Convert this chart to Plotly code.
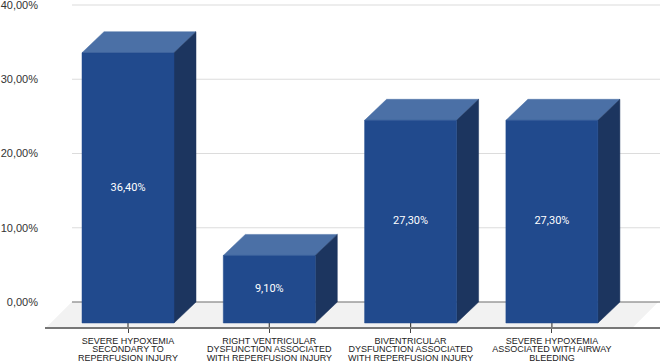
import plotly.graph_objects as go

categories = [
    ["SEVERE HYPOXEMIA", "SECONDARY TO", "REPERFUSION INJURY"],
    ["RIGHT VENTRICULAR", "DYSFUNCTION ASSOCIATED", "WITH REPERFUSION INJURY"],
    ["BIVENTRICULAR", "DYSFUNCTION ASSOCIATED", "WITH REPERFUSION INJURY"],
    ["SEVERE HYPOXEMIA", "ASSOCIATED WITH AIRWAY", "BLEEDING"],
]
values = [36.4, 9.1, 27.3, 27.3]
value_labels = ["36,40%", "9,10%", "27,30%", "27,30%"]
y_ticks = [0, 10, 20, 30, 40]
y_tick_labels = ["0,00%", "10,00%", "20,00%", "30,00%", "40,00%"]

FRONT, TOP, SIDE = "#214a8d", "#4b70a6", "#1c355f"
W, H, L = 660, 363, 45
PX_X = 141.3            # pixels per category
PX_Y = 7.425            # pixels per percentage point
X0, Y0 = 128, 302       # pixel position of category 0 and of value 0
HALF = 46 / PX_X        # half bar width
DX, DY = 22 / PX_X, 21 / PX_Y   # oblique depth of the bars


def xv(px):
    return (px - X0) / PX_X


def yv(px):
    return (Y0 - px) / PX_Y


fig = go.Figure()


def poly(xs, ys, color):
    fig.add_trace(go.Scatter(x=xs + xs[:1], y=ys + ys[:1], mode="lines", fill="toself",
                             fillcolor=color, line=dict(color=color, width=0.5),
                             hoverinfo="skip", showlegend=False))


def seg(xs, ys, color, width=1.2):
    fig.add_trace(go.Scatter(x=xs, y=ys, mode="lines", line=dict(color=color, width=width),
                             hoverinfo="skip", showlegend=False))


# floor
poly([xv(72), xv(658), xv(633), xv(47)], [0, 0, yv(327), yv(327)], "#f2f2f2")

# back wall gridlines
for t in y_ticks:
    seg([xv(72), xv(660)], [t, t], "#dcdcdc" if t else "#6e6e6e", 1.2)

# floor axis tick stubs above the axis line
for i in range(len(values)):
    seg([i, i], [-DY, yv(328)], "#444444", 1.2)

# bars
for i, v in enumerate(values):
    l, r = i - HALF, i + HALF
    poly([l + DX, r + DX, r, l], [v, v, v - DY, v - DY], TOP)
    poly([r, r + DX, r + DX, r], [-DY, 0, v, v - DY], SIDE)
    poly([l, r, r, l], [-DY, -DY, v - DY, v - DY], FRONT)

# value labels
fig.add_trace(go.Scatter(
    x=list(range(len(values))), y=[v / 2 - DY for v in values],
    text=value_labels, mode="text", textposition="middle center",
    textfont=dict(family="Roboto, sans-serif", size=11, color="white"),
    hoverinfo="skip", showlegend=False))

# category labels, line by line for the tight leading
for n, py in enumerate([341.5, 350, 358.5]):
    fig.add_trace(go.Scatter(
        x=list(range(len(categories))), y=[yv(py)] * len(categories),
        text=[c[n] for c in categories], mode="text", textposition="middle center",
        textfont=dict(family="Liberation Sans, Arial, sans-serif", size=9, color="#222222"),
        hoverinfo="skip", showlegend=False, cliponaxis=False))

fig.update_layout(
    width=W, height=H, margin=dict(l=L, r=0, t=0, b=0),
    paper_bgcolor="white", plot_bgcolor="white", showlegend=False,
    xaxis=dict(range=[xv(L), xv(W)], showgrid=False, zeroline=False, showline=True,
               linecolor="#777777", linewidth=1.5, anchor="free",
               position=(H - 328) / H, tickmode="array",
               tickvals=list(range(len(values))), ticktext=[""] * len(values),
               ticks="outside", ticklen=4, tickcolor="#444444", tickwidth=1.2),
    yaxis=dict(range=[yv(H), yv(0)], showgrid=False, zeroline=False, showline=False,
               tickmode="array", tickvals=y_ticks, ticktext=y_tick_labels, ticks="",
               ticklabelstandoff=6, ticklabeloverflow="allow",
               tickfont=dict(family="Liberation Sans, Arial, sans-serif", size=11, color="#333333")),
)
fig.write_html("out.html", config={"displayModeBar": False},
               post_script="document.body.style.margin='0';document.documentElement.style.overflow='hidden';")
